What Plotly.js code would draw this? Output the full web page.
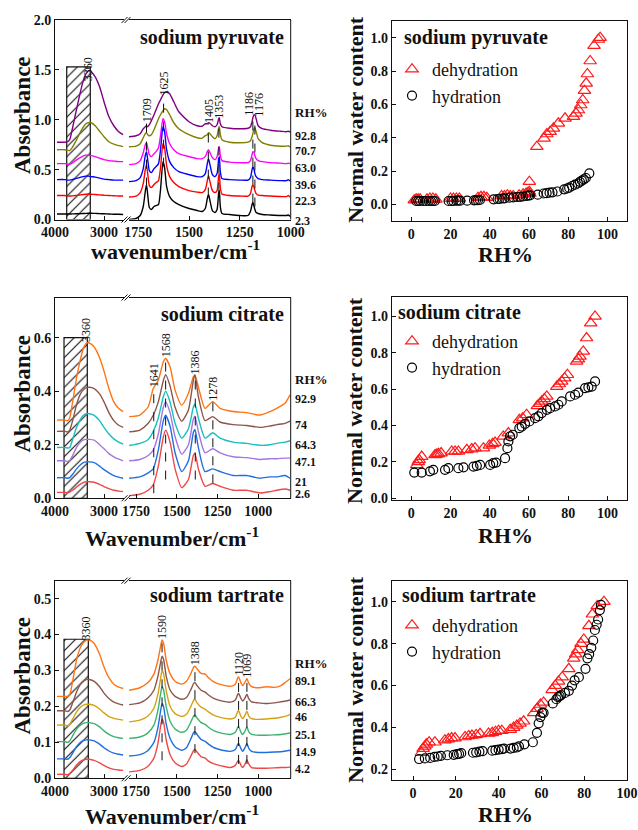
<!DOCTYPE html>
<html><head><meta charset="utf-8">
<script src="https://cdn.plot.ly/plotly-3.0.1.min.js"></script>
<style>html,body{margin:0;padding:0;background:#fff}#chart{width:638px;height:830px}</style>
</head><body><div id="chart"></div>
<script>
// ---------------- DATA ----------------
// Sodium pyruvate spectra
const pyrWnL = [3960,3800,3740,3700,3650,3580,3500,3430,3370,3320,3260,3180,3090,3000,2900,2800,2700,2610];
const pyrWnR = [1795,1760,1740,1725,1715,1709,1703,1695,1685,1672,1662,1650,1640,1628,1620,1610,1595,1575,1550,1500,1460,1435,1420,1410,1404,1397,1385,1372,1362,1354,1351,1346,1338,1300,1250,1210,1198,1190,1186,1180,1176,1170,1160,1140,1100,1050,1020,1012,1005,1000];
const pyrRH = ['92.8','70.7','63.0','39.6','22.3','2.3'];
const pyrL_928 = [0.775,0.775,0.78,0.80,0.90,1.06,1.24,1.38,1.46,1.49,1.48,1.43,1.33,1.18,1.03,0.94,0.88,0.85];
const pyrL_707 = [0.70,0.70,0.695,0.69,0.72,0.78,0.86,0.92,0.96,0.97,0.97,0.94,0.885,0.83,0.78,0.755,0.74,0.73];
const pyrL_630 = [0.56,0.56,0.555,0.555,0.565,0.59,0.615,0.635,0.645,0.645,0.64,0.63,0.615,0.60,0.59,0.585,0.58,0.58];
const pyrL_396 = [0.40,0.40,0.395,0.395,0.40,0.41,0.42,0.43,0.435,0.435,0.43,0.425,0.415,0.405,0.40,0.395,0.395,0.395];
const pyrL_223 = [0.24,0.24,0.235,0.235,0.237,0.24,0.245,0.25,0.253,0.255,0.253,0.25,0.247,0.243,0.24,0.238,0.236,0.235];
const pyrL_23  = [0.055,0.055,0.055,0.055,0.056,0.057,0.058,0.06,0.061,0.062,0.062,0.061,0.059,0.057,0.055,0.053,0.052,0.05];
const pyrR_928 = [0.83,0.84,0.86,0.91,0.93,0.94,0.93,0.95,0.99,1.05,1.10,1.16,1.20,1.25,1.27,1.28,1.26,1.18,1.08,0.98,0.94,0.935,0.96,0.96,0.97,0.965,0.94,0.93,0.95,1.01,1.02,0.96,0.93,0.915,0.91,0.915,0.93,0.98,1.02,1.05,1.05,1.01,0.94,0.91,0.895,0.885,0.88,0.885,0.88,0.88];
const pyrR_707 = [0.73,0.735,0.76,0.82,0.86,0.87,0.85,0.84,0.85,0.90,0.95,1.01,1.05,1.09,1.11,1.10,1.05,0.97,0.91,0.85,0.82,0.815,0.84,0.85,0.87,0.86,0.83,0.81,0.84,0.92,0.93,0.85,0.80,0.775,0.77,0.775,0.79,0.83,0.86,0.91,0.92,0.88,0.81,0.77,0.745,0.735,0.735,0.74,0.73,0.73];
const pyrR_630 = [0.55,0.56,0.59,0.67,0.75,0.77,0.72,0.65,0.63,0.66,0.68,0.72,0.84,1.01,0.98,0.86,0.76,0.70,0.66,0.63,0.61,0.61,0.63,0.68,0.70,0.67,0.62,0.60,0.63,0.72,0.73,0.64,0.59,0.575,0.57,0.57,0.59,0.65,0.68,0.67,0.64,0.61,0.59,0.58,0.57,0.565,0.56,0.565,0.56,0.56];
const pyrR_396 = [0.38,0.39,0.42,0.51,0.64,0.68,0.60,0.49,0.47,0.51,0.53,0.56,0.70,0.93,0.88,0.70,0.58,0.52,0.48,0.45,0.43,0.43,0.46,0.56,0.61,0.55,0.45,0.43,0.46,0.61,0.63,0.48,0.41,0.40,0.395,0.395,0.42,0.50,0.53,0.50,0.46,0.43,0.41,0.40,0.395,0.39,0.39,0.40,0.39,0.385];
const pyrR_223 = [0.225,0.235,0.27,0.36,0.50,0.55,0.46,0.34,0.32,0.35,0.37,0.39,0.52,0.76,0.72,0.54,0.43,0.37,0.33,0.29,0.275,0.27,0.30,0.39,0.44,0.38,0.29,0.27,0.29,0.44,0.46,0.32,0.255,0.24,0.235,0.235,0.26,0.33,0.35,0.32,0.29,0.26,0.245,0.24,0.235,0.23,0.23,0.24,0.23,0.225];
const pyrR_23  = [0.00,0.01,0.04,0.13,0.28,0.35,0.25,0.12,0.10,0.13,0.14,0.15,0.30,0.58,0.52,0.33,0.23,0.18,0.15,0.11,0.09,0.08,0.11,0.21,0.25,0.19,0.09,0.07,0.10,0.27,0.29,0.13,0.06,0.05,0.04,0.04,0.08,0.15,0.17,0.13,0.10,0.07,0.06,0.05,0.045,0.04,0.04,0.045,0.035,0.03];
const pyrPeaks = [1709,1625,1405,1353,1186,1176];
const pyrPeakLo = [0.33,0.53,0.23,0.28,0.17,0.13];
const pyrPeakHi = [0.97,1.23,0.96,1.0,1.03,1.02];
const pyrBox = [3761,3280,1.53];   // hatched OH region: from, to, height

// Sodium citrate spectra
const citWnL = [3960,3800,3740,3700,3640,3560,3480,3420,3360,3300,3200,3090,3000,2900,2800,2700,2610];
const citWnR = [1792,1726,1675,1644,1613,1582,1568,1541,1510,1469,1428,1398,1388,1367,1326,1279,1234,1153,1071,989,927,886,835,804];
const citRH = ['92.9','74','64.3','47.1','21','2.6'];
const citL_929 = [0.292,0.292,0.29,0.30,0.36,0.45,0.52,0.56,0.58,0.58,0.565,0.525,0.475,0.41,0.36,0.335,0.324];
const citL_74  = [0.25,0.25,0.248,0.255,0.29,0.35,0.39,0.405,0.413,0.415,0.41,0.39,0.36,0.32,0.29,0.273,0.265];
const citL_643 = [0.19,0.19,0.188,0.19,0.22,0.265,0.295,0.31,0.316,0.316,0.31,0.29,0.265,0.24,0.222,0.21,0.202];
const citL_471 = [0.14,0.14,0.138,0.14,0.16,0.19,0.21,0.218,0.22,0.22,0.217,0.2,0.185,0.167,0.155,0.146,0.14];
const citL_21  = [0.077,0.077,0.075,0.077,0.09,0.11,0.125,0.133,0.136,0.136,0.133,0.12,0.107,0.095,0.085,0.079,0.075];
const citL_26  = [0.022,0.022,0.022,0.023,0.03,0.042,0.053,0.059,0.062,0.062,0.06,0.052,0.044,0.036,0.03,0.027,0.025];
const citR_929 = [0.305,0.311,0.342,0.41,0.441,0.51,0.522,0.491,0.404,0.348,0.392,0.454,0.46,0.416,0.336,0.361,0.336,0.324,0.32,0.311,0.324,0.336,0.355,0.386];
const citR_74  = [0.248,0.255,0.28,0.31,0.36,0.44,0.462,0.42,0.34,0.288,0.33,0.44,0.462,0.38,0.29,0.305,0.285,0.275,0.272,0.265,0.27,0.275,0.28,0.288];
const citR_643 = [0.197,0.205,0.22,0.25,0.30,0.38,0.40,0.36,0.28,0.225,0.26,0.34,0.352,0.30,0.225,0.245,0.225,0.21,0.205,0.198,0.2,0.205,0.21,0.215];
const citR_471 = [0.14,0.145,0.16,0.18,0.24,0.34,0.36,0.32,0.23,0.165,0.20,0.295,0.307,0.25,0.17,0.185,0.17,0.155,0.152,0.145,0.148,0.148,0.15,0.15];
const citR_21  = [0.075,0.08,0.095,0.11,0.18,0.29,0.31,0.27,0.17,0.10,0.14,0.245,0.257,0.19,0.10,0.11,0.10,0.085,0.085,0.075,0.08,0.08,0.085,0.075];
const citR_26  = [0.01,0.015,0.03,0.05,0.12,0.23,0.254,0.21,0.11,0.04,0.07,0.16,0.168,0.11,0.045,0.055,0.045,0.03,0.03,0.02,0.025,0.03,0.035,0.03];
const citPeaks = [1641,1568,1386,1278];
const citPeakLo = [0.019,0.07,0.07,0.056];
const citPeakHi = [0.41,0.522,0.46,0.36];
const citBox = [3816,3341,0.6];

// Sodium tartrate spectra
const tarWnL = [3960,3800,3740,3700,3640,3560,3480,3420,3360,3300,3200,3090,3000,2900,2800,2700,2610];
const tarWnR = [1792,1726,1680,1640,1615,1600,1590,1580,1565,1540,1510,1470,1440,1415,1395,1388,1375,1350,1325,1305,1270,1220,1170,1140,1125,1120,1105,1095,1080,1069,1058,1040,1000,950,900,860,830,804];
const tarRH = ['89.1','66.3','46','25.1','14.9','4.2'];
const tarL_891 = [0.228,0.228,0.228,0.232,0.27,0.33,0.365,0.378,0.384,0.385,0.375,0.345,0.31,0.28,0.262,0.254,0.25];
const tarL_663 = [0.188,0.188,0.186,0.19,0.21,0.24,0.262,0.27,0.275,0.275,0.27,0.255,0.237,0.222,0.212,0.207,0.204];
const tarL_46  = [0.148,0.148,0.146,0.15,0.165,0.185,0.198,0.204,0.206,0.206,0.203,0.193,0.182,0.172,0.167,0.164,0.162];
const tarL_251 = [0.102,0.102,0.1,0.104,0.118,0.137,0.148,0.153,0.155,0.155,0.152,0.143,0.132,0.122,0.116,0.113,0.111];
const tarL_149 = [0.054,0.054,0.053,0.057,0.07,0.088,0.1,0.105,0.107,0.107,0.104,0.095,0.085,0.076,0.07,0.067,0.065];
const tarL_42  = [0.011,0.011,0.01,0.013,0.022,0.037,0.047,0.051,0.053,0.053,0.05,0.043,0.036,0.029,0.025,0.023,0.022];
const tarR_891 = [0.245,0.252,0.265,0.29,0.33,0.365,0.385,0.375,0.33,0.29,0.27,0.262,0.27,0.29,0.31,0.312,0.305,0.292,0.29,0.28,0.268,0.26,0.256,0.262,0.28,0.282,0.265,0.258,0.268,0.278,0.265,0.255,0.252,0.255,0.253,0.258,0.268,0.277];
const tarR_663 = [0.205,0.21,0.222,0.245,0.285,0.32,0.34,0.33,0.285,0.245,0.228,0.22,0.225,0.245,0.265,0.267,0.258,0.245,0.24,0.232,0.222,0.215,0.212,0.218,0.234,0.236,0.222,0.215,0.224,0.234,0.222,0.213,0.21,0.208,0.21,0.213,0.215,0.218];
const tarR_46  = [0.157,0.162,0.172,0.195,0.235,0.275,0.30,0.29,0.245,0.2,0.18,0.172,0.178,0.198,0.218,0.22,0.21,0.198,0.192,0.185,0.175,0.168,0.165,0.17,0.186,0.188,0.172,0.166,0.176,0.187,0.174,0.166,0.164,0.165,0.167,0.17,0.173,0.177];
const tarR_251 = [0.111,0.115,0.125,0.148,0.19,0.232,0.256,0.245,0.2,0.158,0.137,0.128,0.134,0.155,0.174,0.176,0.168,0.155,0.15,0.142,0.132,0.125,0.122,0.128,0.142,0.144,0.128,0.122,0.132,0.143,0.13,0.122,0.12,0.12,0.121,0.122,0.124,0.126];
const tarR_149 = [0.062,0.066,0.076,0.1,0.142,0.185,0.208,0.198,0.152,0.11,0.088,0.078,0.085,0.108,0.128,0.13,0.122,0.108,0.103,0.095,0.085,0.078,0.075,0.08,0.095,0.097,0.082,0.075,0.086,0.097,0.084,0.075,0.072,0.072,0.073,0.074,0.076,0.078];
const tarR_42  = [0.018,0.022,0.032,0.056,0.098,0.142,0.165,0.155,0.108,0.065,0.043,0.033,0.04,0.06,0.078,0.08,0.073,0.06,0.056,0.048,0.04,0.034,0.03,0.036,0.048,0.05,0.036,0.03,0.04,0.052,0.04,0.03,0.028,0.028,0.029,0.03,0.03,0.031];
const tarPeaks = [1590,1388,1120,1069];
const tarPeakLo = [0.05,0.07,0.04,0.04];
const tarPeakHi = [0.385,0.312,0.282,0.277];
const tarBox = [3816,3320,0.387];

// Normal water content vs RH
const pyrDehRH = [1.5,2.5,3.5,4.5,8,9.5,11,12.5,20,21.5,23,24.5,34,35.5,37,38.5,46,47.5,49,50.5,52,55,57,58.5,59.5,60.2,60.2,60.5,64,67.7,69.1,70.8,72.5,75,78.4,82.7,84,85.2,86.4,87.4,88.3,89.2,89.8,91.2,93.2,95.4,96.3];
const pyrDehW  = [0.025,0.03,0.03,0.03,0.03,0.035,0.035,0.03,0.035,0.035,0.035,0.035,0.04,0.045,0.045,0.04,0.05,0.05,0.055,0.05,0.05,0.055,0.06,0.065,0.07,0.076,0.136,0.065,0.346,0.396,0.422,0.436,0.456,0.486,0.516,0.526,0.546,0.566,0.596,0.626,0.682,0.726,0.782,0.86,0.952,0.989,1.0];
const pyrHydRH = [2.5,3.5,4.5,6,7.5,9,10,11,12,19,20.5,21.5,23,24,25,28.5,32,33,34,35,42,44,45,46.5,47.5,50,52,54,55.5,57,58.5,59.5,60.5,64.5,67.5,69,70.5,72,74.5,78,79.5,80.5,82,83.5,85,86,87,88,89,90.8];
const pyrHydW  = [0.02,0.02,0.02,0.02,0.02,0.02,0.02,0.02,0.02,0.02,0.02,0.02,0.022,0.022,0.022,0.022,0.024,0.025,0.025,0.026,0.03,0.032,0.033,0.035,0.036,0.04,0.042,0.044,0.045,0.047,0.05,0.052,0.054,0.058,0.065,0.067,0.07,0.072,0.077,0.09,0.095,0.1,0.11,0.118,0.125,0.135,0.142,0.15,0.158,0.186];
const citDehRH = [2.8,3.5,4,5.3,12.1,13,13.8,15.2,20.6,22.3,24,28.3,30.8,32.5,36.8,39.8,41.5,42.7,46.9,49.5,55.1,56.8,58.8,64.3,65.5,66.5,67.8,69.1,74.2,75.5,76.7,78.2,79.6,84.3,85.2,86,87.7,89.4,91.5,93.7];
const citDehW  = [0.183,0.2,0.211,0.229,0.238,0.241,0.244,0.248,0.257,0.257,0.257,0.266,0.27,0.275,0.275,0.29,0.299,0.306,0.34,0.358,0.431,0.44,0.459,0.508,0.52,0.532,0.546,0.56,0.614,0.628,0.642,0.66,0.679,0.752,0.765,0.78,0.807,0.881,0.963,1.0];
const citHydRH = [1.5,5.3,9.5,11.2,17.2,18.9,24,26.6,31.7,33.4,35.1,40.2,41.8,43.2,47.8,49,49.5,50.4,51.7,55.1,56.3,58,60.2,63.1,64.8,66.5,69.1,70.8,73.3,75,76.7,81,83.5,85.2,88.6,90.3,92,93.7];
const citHydW  = [0.141,0.141,0.148,0.156,0.156,0.165,0.165,0.17,0.174,0.178,0.183,0.183,0.193,0.196,0.22,0.275,0.312,0.34,0.349,0.385,0.394,0.409,0.422,0.44,0.45,0.468,0.486,0.495,0.505,0.514,0.532,0.56,0.569,0.581,0.605,0.61,0.614,0.642];
const tarDehRH = [3.9,4.7,5.5,6.2,7.5,10.2,14.9,16.5,18,19.6,24.3,26,27.5,29.5,31.3,35.3,37,38.5,40,41.5,45.4,47,48.5,50,51.7,56.4,58,59.5,61,65,66.5,68,69.7,72.8,75.1,76,77,78.5,79.8,82.2,83.8,86.1,89.2];
const tarDehW  = [0.28,0.3,0.31,0.32,0.33,0.33,0.34,0.345,0.35,0.35,0.355,0.36,0.362,0.365,0.37,0.372,0.375,0.38,0.385,0.385,0.39,0.4,0.41,0.42,0.43,0.47,0.49,0.51,0.52,0.58,0.6,0.62,0.64,0.68,0.73,0.75,0.77,0.8,0.82,0.885,0.94,0.98,1.0];
const tarHydRH = [2.8,5.5,8,10,11.5,13,16,19,20.5,21.5,22.5,28,29.5,31,32.5,37,38.5,40,41.5,42.5,45.5,47,48.5,49.5,52,56,57.9,58.7,59.5,60.3,61,65.3,67,67.8,68.5,69.2,71,72.8,74.3,75.5,77.5,80.6,81.5,82.3,83.3,84.2,85,85.8,86.5,87.3,87.8];
const tarHydW  = [0.25,0.253,0.255,0.26,0.262,0.265,0.268,0.27,0.273,0.275,0.278,0.28,0.282,0.285,0.288,0.29,0.292,0.295,0.297,0.3,0.3,0.303,0.305,0.31,0.32,0.33,0.375,0.42,0.45,0.47,0.47,0.515,0.535,0.545,0.55,0.555,0.565,0.575,0.6,0.625,0.64,0.68,0.73,0.75,0.78,0.815,0.865,0.89,0.915,0.96,0.985];

// ---------------- BUILD ----------------
const W = 638, H = 830;
const FONT = 'Liberation Serif, Times New Roman, serif';
const px = v => v / W, py = v => 1 - v / H;

const traces = [];
const annotations = [];
const shapes = [];

function spectraPanel(o) {
  // hatched OH box
  traces.push({type:'bar', x:[(o.box[0]+o.box[1])/2], y:[o.box[2]], width:[Math.abs(o.box[0]-o.box[1])], base:0,
    xaxis:o.xL, yaxis:o.y, showlegend:false, hoverinfo:'skip',
    marker:{color:'rgba(255,255,255,0)', line:{color:'#111', width:1.2},
      pattern:{shape:'/', fgcolor:'#111', bgcolor:'rgba(255,255,255,0)', size:7, solidity:0.16}}});
  o.series.forEach(s => {
    traces.push({x:o.wnL, y:s.L, xaxis:o.xL, yaxis:o.y, mode:'lines', showlegend:false, hoverinfo:'skip',
      line:{color:s.c, width:1.4, shape:'spline', smoothing:0.6}});
    traces.push({x:o.wnR, y:s.R, xaxis:o.xR, yaxis:o.y, mode:'lines', showlegend:false, hoverinfo:'skip',
      line:{color:s.c, width:1.4, shape:'spline', smoothing:0.6}});
    annotations.push({xref:'paper', x:px(293), xanchor:'left', yanchor:'middle', yref:o.y, y:s.R[s.R.length-1], yshift:o.lblShift,
      text:s.rh, showarrow:false, font:{family:FONT, size:12, weight:'bold', color:'#111'}});
  });
  o.peaks.forEach((p,i) => {
    traces.push({x:[p,p], y:[o.lo[i], o.hi[i]], xaxis:o.xR, yaxis:o.y, mode:'lines', showlegend:false, hoverinfo:'skip',
      line:{color:'#111', width:1, dash:'dash'}});
    annotations.push({xref:o.xR, x:p, yref:o.y, y:o.hi[i], xanchor:'center', yanchor:'bottom', xshift:(o.lx ? o.lx[i] : 0),
      text:String(p), textangle:-90, showarrow:false, font:{family:FONT, size:12, color:'#111'}, borderpad:0});
  });
  annotations.push({xref:o.xL, x:o.box[1]+40, yref:o.y, y:o.box[2], yshift:o.boxLblShift, xanchor:'center', yanchor:'middle',
    text:'3360', textangle:-90, showarrow:false, font:{family:FONT, size:12, color:'#111'}, borderpad:0});
  annotations.push({xref:'paper', x:px(293), xanchor:'left', yanchor:'middle', yref:'paper', y:py(o.rhHeadY), text:'RH%',
    showarrow:false, font:{family:FONT, size:13, weight:'bold', color:'#111'}});
  // frame right edge and axis breaks
  shapes.push({type:'line', xref:'paper', yref:'paper', x0:px(290.7), x1:px(290.7), y0:py(o.top), y1:py(o.bot), line:{color:'#111', width:1}});
  [o.top, o.bot].forEach(yy => {
    [[121.5,127.5],[124.5,130.5]].forEach(([a,b]) => {
      shapes.push({type:'line', xref:'paper', yref:'paper', x0:px(a), y0:py(yy+3), x1:px(b), y1:py(yy-3), line:{color:'#111', width:1}});
    });
  });
}

spectraPanel({xL:'x', xR:'x2', y:'y', wnL:pyrWnL, wnR:pyrWnR, box:pyrBox, peaks:pyrPeaks, lo:pyrPeakLo, hi:pyrPeakHi,
  lx:[0,0,0,0,-4,4], lblShift:-4, rhHeadY:113, top:20, bot:219.5, boxLblShift:-2,
  series:[{rh:pyrRH[0],L:pyrL_928,R:pyrR_928,c:'#800080'},{rh:pyrRH[1],L:pyrL_707,R:pyrR_707,c:'#808000'},
          {rh:pyrRH[2],L:pyrL_630,R:pyrR_630,c:'#ff00ff'},{rh:pyrRH[3],L:pyrL_396,R:pyrR_396,c:'#0000ff'},
          {rh:pyrRH[4],L:pyrL_223,R:pyrR_223,c:'#ff0000'},{rh:pyrRH[5],L:pyrL_23,R:pyrR_23,c:'#000000'}]});
spectraPanel({xL:'x4', xR:'x5', y:'y3', wnL:citWnL, wnR:citWnR, box:citBox, peaks:citPeaks, lo:citPeakLo, hi:citPeakHi,
  lblShift:-4, rhHeadY:380, top:297.5, bot:498.3, boxLblShift:8,
  series:[{rh:citRH[0],L:citL_929,R:citR_929,c:'#ff7415'},{rh:citRH[1],L:citL_74,R:citR_74,c:'#8c564b'},
          {rh:citRH[2],L:citL_643,R:citR_643,c:'#17bfbf'},{rh:citRH[3],L:citL_471,R:citR_471,c:'#a575e0'},
          {rh:citRH[4],L:citL_21,R:citR_21,c:'#1f6fe0'},{rh:citRH[5],L:citL_26,R:citR_26,c:'#f04848'}]});
spectraPanel({xL:'x7', xR:'x8', y:'y5', wnL:tarWnL, wnR:tarWnR, box:tarBox, peaks:tarPeaks, lo:tarPeakLo, hi:tarPeakHi,
  lblShift:-2, rhHeadY:663, top:580.7, bot:778.3, boxLblShift:11,
  series:[{rh:tarRH[0],L:tarL_891,R:tarR_891,c:'#ff7415'},{rh:tarRH[1],L:tarL_663,R:tarR_663,c:'#8c564b'},
          {rh:tarRH[2],L:tarL_46,R:tarR_46,c:'#d4a20f'},{rh:tarRH[3],L:tarL_251,R:tarR_251,c:'#3cb371'},
          {rh:tarRH[4],L:tarL_149,R:tarR_149,c:'#1f6fe0'},{rh:tarRH[5],L:tarL_42,R:tarR_42,c:'#f04848'}]});

function waterPanel(x, y, leg, deh, hyd) {
  traces.push({x:deh[0], y:deh[1], xaxis:x, yaxis:y, mode:'markers', name:'dehydration', legend:leg, hoverinfo:'skip',
    marker:{symbol:'triangle-up-open', size:11, color:'#ff1a1a', line:{width:1.2}}});
  traces.push({x:hyd[0], y:hyd[1], xaxis:x, yaxis:y, mode:'markers', name:'hydration', legend:leg, hoverinfo:'skip',
    marker:{symbol:'circle-open', size:9, color:'#000', line:{width:1.2}}});
}
waterPanel('x3','y2','legend',[pyrDehRH,pyrDehW],[pyrHydRH,pyrHydW]);
waterPanel('x6','y4','legend2',[citDehRH,citDehW],[citHydRH,citHydW]);
waterPanel('x9','y6','legend3',[tarDehRH,tarDehW],[tarHydRH,tarHydW]);

// titles / labels
function txt(x, y, t, size, opts) {
  annotations.push(Object.assign({xref:'paper', yref:'paper', x:px(x), y:py(y), text:t, showarrow:false,
    xanchor:'center', yanchor:'middle',
    font:{family:FONT, size:size, weight:'bold', color:'#111'}}, opts || {}));
}
[[22.5,115.5],[21.5,394],[21.5,676]].forEach(p => txt(p[0],p[1],'Absorbance',23,{textangle:-90}));
txt(175,250,'wavenumber/cm<sup>-1</sup>',22);
txt(172,537,'Wavenumber/cm<sup>-1</sup>',22);
txt(172,815,'Wavenumber/cm<sup>-1</sup>',22);
[[355,120],[355,401],[355,680]].forEach(p => txt(p[0],p[1],'Normal water content',22,{textangle:-90}));
[[505,254],[505,535],[505,814]].forEach(p => txt(p[0],p[1],'RH%',22));
txt(286,38,'sodium pyruvate',20,{xanchor:'right'});
txt(286,314,'sodium citrate',20,{xanchor:'right'});
txt(286,595,'sodium tartrate',20,{xanchor:'right'});
txt(402,37,'sodium pyruvate',20,{xanchor:'left'});
txt(396,312,'sodium citrate',20,{xanchor:'left'});
txt(400,595,'sodium tartrate',20,{xanchor:'left'});

// axes
const tickfont = {family:FONT, size:14, weight:'bold', color:'#111'};
function ax(extra) {
  return Object.assign({showline:true, linecolor:'#111', linewidth:1, mirror:true, ticks:'inside', ticklen:4,
    tickcolor:'#111', showgrid:false, zeroline:false, tickfont:tickfont, fixedrange:true, autorange:false}, extra);
}
const segL = [px(55), px(124)], segR = [px(129), px(290.7)], rightX = [px(391.7), px(627)];
const layout = {
  width:W, height:H, margin:{l:0,r:0,t:0,b:0}, paper_bgcolor:'#fff', plot_bgcolor:'rgba(0,0,0,0)',
  showlegend:true, barmode:'overlay',
  xaxis:  ax({domain:segL, range:[4000,2592], tickvals:[4000,3000], anchor:'y'}),
  xaxis2: ax({domain:segR, range:[1795,1000], tickvals:[1750,1500,1250,1000], anchor:'y'}),
  yaxis:  ax({domain:[py(219.5),py(20)], range:[0,2.0], dtick:0.5, tickformat:'.1f', anchor:'x', mirror:false}),
  xaxis3: ax({domain:rightX, range:[-10,110], dtick:20, anchor:'y2'}),
  yaxis2: ax({domain:[py(221),py(21)], range:[-0.1,1.1], tick0:0, dtick:0.2, tickformat:'.1f', anchor:'x3'}),
  xaxis4: ax({domain:segL, range:[4000,2592], tickvals:[4000,3000], anchor:'y3'}),
  xaxis5: ax({domain:segR, range:[1793,800], tickvals:[1750,1500,1250,1000], anchor:'y3'}),
  yaxis3: ax({domain:[py(498.3),py(297.5)], range:[0,0.75], tickvals:[0,0.2,0.4,0.6], tickformat:'.1f', anchor:'x4', mirror:false}),
  xaxis6: ax({domain:rightX, range:[-10,110], dtick:20, anchor:'y4'}),
  yaxis4: ax({domain:[py(500),py(297.3)], range:[-0.01,1.105], tick0:0, dtick:0.2, tickformat:'.1f', anchor:'x6'}),
  xaxis7: ax({domain:segL, range:[4000,2592], tickvals:[4000,3000], anchor:'y5'}),
  xaxis8: ax({domain:segR, range:[1793,800], tickvals:[1750,1500,1250,1000], anchor:'y5'}),
  yaxis5: ax({domain:[py(778.3),py(580.7)], range:[0,0.55], tick0:0, dtick:0.1, tickformat:'.1f', anchor:'x7', mirror:false}),
  xaxis9: ax({domain:rightX, range:[-10,100], dtick:20, anchor:'y6'}),
  yaxis6: ax({domain:[py(780),py(580.7)], range:[0.15,1.1], tickvals:[0.2,0.4,0.6,0.8,1.0], tickformat:'.1f', anchor:'x9'}),
  annotations:annotations, shapes:shapes
};
function legendAt(topPx) {
  return {x:px(392), y:py(topPx), xanchor:'left', yanchor:'top', bgcolor:'rgba(0,0,0,0)', borderwidth:0,
    font:{family:FONT, size:18, color:'#111'}, itemwidth:30, tracegroupgap:0};
}
layout.legend = legendAt(51);
layout.legend2 = legendAt(323);
layout.legend3 = legendAt(607);

Plotly.newPlot('chart', traces, layout, {staticPlot:true, displayModeBar:false});
</script>
</body></html>
